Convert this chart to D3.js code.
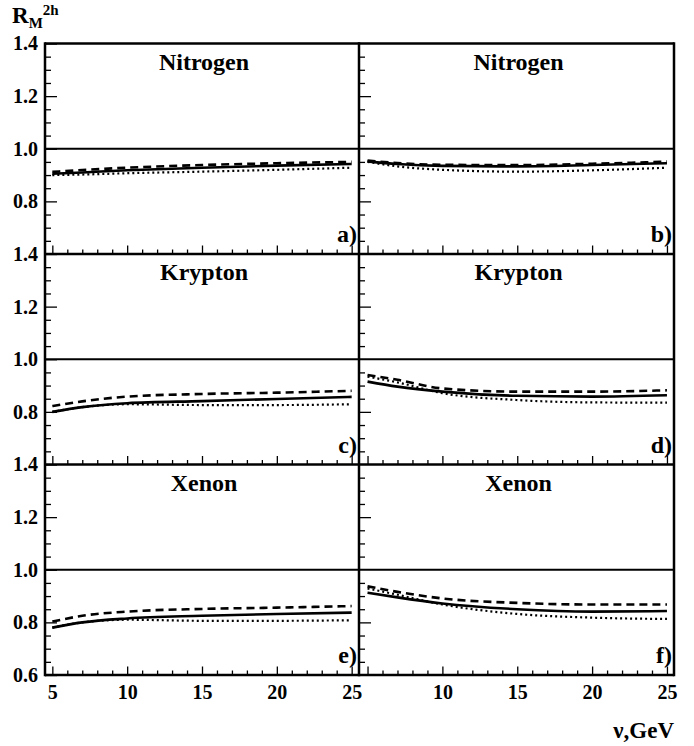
<!DOCTYPE html>
<html><head><meta charset="utf-8">
<script src="https://cdn.jsdelivr.net/npm/d3@7"></script>
<style>body{margin:0;background:#fff}</style>
</head><body><svg id="c" width="694" height="746"></svg>
<script>
// ---- data ----
const nu = [5, 7, 10, 15, 20, 25];
const elements = ["Nitrogen", "Krypton", "Xenon"];
const panelLabels = ["a)", "b)", "c)", "d)", "e)", "f)"];
// each panel: solid, dashed, dotted
const aSolid  = [0.905, 0.910, 0.918, 0.928, 0.936, 0.942];
const aDashed = [0.912, 0.919, 0.928, 0.938, 0.945, 0.950];
const aDotted = [0.900, 0.902, 0.907, 0.913, 0.920, 0.928];
const bSolid  = [0.952, 0.942, 0.935, 0.933, 0.938, 0.945];
const bDashed = [0.955, 0.946, 0.939, 0.938, 0.943, 0.951];
const bDotted = [0.950, 0.933, 0.920, 0.913, 0.918, 0.928];
const cSolid  = [0.800, 0.818, 0.833, 0.841, 0.849, 0.857];
const cDashed = [0.822, 0.840, 0.858, 0.868, 0.873, 0.880];
const cDotted = [0.800, 0.818, 0.829, 0.826, 0.826, 0.829];
const dSolid  = [0.915, 0.896, 0.877, 0.861, 0.858, 0.863];
const dDashed = [0.940, 0.922, 0.889, 0.877, 0.877, 0.882];
const dDotted = [0.934, 0.912, 0.871, 0.845, 0.836, 0.835];
const eSolid  = [0.780, 0.800, 0.815, 0.825, 0.832, 0.837];
const eDashed = [0.803, 0.825, 0.841, 0.851, 0.856, 0.862];
const eDotted = [0.780, 0.800, 0.810, 0.806, 0.806, 0.808];
const fSolid  = [0.913, 0.895, 0.872, 0.850, 0.841, 0.843];
const fDashed = [0.937, 0.916, 0.891, 0.874, 0.868, 0.868];
const fDotted = [0.929, 0.905, 0.868, 0.832, 0.818, 0.813];
const yTickLabels = [0.8, 1.0, 1.2, 1.4];
const xTickLabels = [5, 10, 15, 20, 25];

const panels = [
  [aSolid, aDashed, aDotted], [bSolid, bDashed, bDotted],
  [cSolid, cDashed, cDotted], [dSolid, dDashed, dDotted],
  [eSolid, eDashed, eDotted], [fSolid, fDashed, fDotted]
];

// ---- layout ----
const FONT = "Liberation Serif";
const svg = d3.select("#c");
const top0 = 43.5, rowH = 210.5;
const cols = [{x0: 45, x1: 359, dom: [4.51, 25.49]}, {x0: 359, x1: 674, dom: [4.43, 25.47]}];
const styles = [
  {w: 2.6, dash: null},
  {w: 2.6, dash: "8,5"},
  {w: 2.2, dash: "2,3"}
];
function txt(sel) {
  return sel.style("font-family", FONT).style("font-weight", "bold").attr("fill", "#000");
}

panels.forEach((series, i) => {
  const r = Math.floor(i / 2), c = i % 2;
  const col = cols[c];
  const yT = top0 + r * rowH, yB = yT + rowH;
  const x = d3.scaleLinear().domain(col.dom).range([col.x0, col.x1]);
  const y = d3.scaleLinear().domain([0.6, 1.4]).range([yB, yT]);
  const g = svg.append("g");

  // y axis minor/major ticks (inward)
  const yMinor = [0.65, 0.7, 0.75, 0.85, 0.9, 0.95, 1.05, 1.1, 1.15, 1.25, 1.3, 1.35];
  g.append("g").attr("transform", `translate(${col.x0},0)`)
    .call(d3.axisLeft(y).tickValues(yMinor).tickSize(-6).tickFormat(""))
    .call(s => s.select(".domain").remove())
    .selectAll("line").attr("stroke-width", 1.3);
  const yMaj = g.append("g").attr("transform", `translate(${col.x0},0)`)
    .call(d3.axisLeft(y).tickValues(c === 0 ? (r === 2 ? [0.6].concat(yTickLabels) : yTickLabels) : [0.8, 1.2])
      .tickSize(-12).tickPadding(7).tickFormat(c === 0 ? d3.format(".1f") : ""))
    .call(s => s.select(".domain").remove());
  yMaj.selectAll("line").attr("stroke-width", 1.3);
  txt(yMaj.selectAll("text")).attr("font-size", 20);

  // x ticks (inward, at bottom)
  const xMinor = d3.range(5, 26, 1).filter(v => v % 5 !== 0);
  g.append("g").attr("transform", `translate(0,${yB})`)
    .call(d3.axisBottom(x).tickValues(xMinor).tickSize(-4.5).tickFormat(""))
    .call(s => s.select(".domain").remove())
    .selectAll("line").attr("stroke-width", 1.3);
  const xMaj = g.append("g").attr("transform", `translate(0,${yB})`)
    .call(d3.axisBottom(x).tickValues(xTickLabels).tickSize(-8.5).tickPadding(10)
      .tickFormat(v => (r === 2 && !(c === 1 && v === 5)) ? d3.format("d")(v) : ""))
    .call(s => s.select(".domain").remove());
  xMaj.selectAll("line").attr("stroke-width", 1.3);
  txt(xMaj.selectAll("text")).attr("font-size", 20);

  // horizontal line at 1.0
  g.append("line").attr("x1", col.x0).attr("x2", col.x1)
    .attr("y1", y(1.0)).attr("y2", y(1.0)).attr("stroke", "#000").attr("stroke-width", 2.2);

  // curves
  const line = d3.line().x((d, k) => x(nu[k])).y(d => y(d)).curve(d3.curveMonotoneX);
  series.forEach((vals, k) => {
    g.append("path").attr("d", line(vals)).attr("fill", "none")
      .attr("stroke", "#000").attr("stroke-width", styles[k].w)
      .attr("stroke-dasharray", styles[k].dash);
  });

  // titles
  txt(g.append("text").attr("x", (col.x0 + col.x1) / 2 + 2).attr("y", yT + 26)
    .attr("text-anchor", "middle").attr("font-size", 24).text(elements[r]));
  txt(g.append("text").attr("x", col.x1 - 2).attr("y", yB - 12)
    .attr("text-anchor", "end").attr("font-size", 24).text(panelLabels[i]));
});

// frame
const frame = svg.append("g").attr("stroke", "#000").attr("stroke-width", 2.5).attr("fill", "none");
const yLines = d3.range(4).map(k => top0 + k * rowH);
yLines.forEach(yy => frame.append("line").attr("x1", 45).attr("x2", 674).attr("y1", yy).attr("y2", yy));
[45, 359, 674].forEach(xx => frame.append("line").attr("x1", xx).attr("x2", xx).attr("y1", top0 - 1.2).attr("y2", top0 + 3 * rowH + 1.2));

// axis titles
const yl = txt(svg.append("text").attr("x", 12).attr("y", 23).attr("font-size", 23));
yl.append("tspan").text("R");
yl.append("tspan").attr("font-size", 15).attr("dy", 5).text("M");
yl.append("tspan").attr("font-size", 15).attr("dy", -13).text("2h");
txt(svg.append("text").attr("x", 674).attr("y", 738).attr("text-anchor", "end")
  .attr("font-size", 23).text("ν,GeV"));
</script></body></html>
